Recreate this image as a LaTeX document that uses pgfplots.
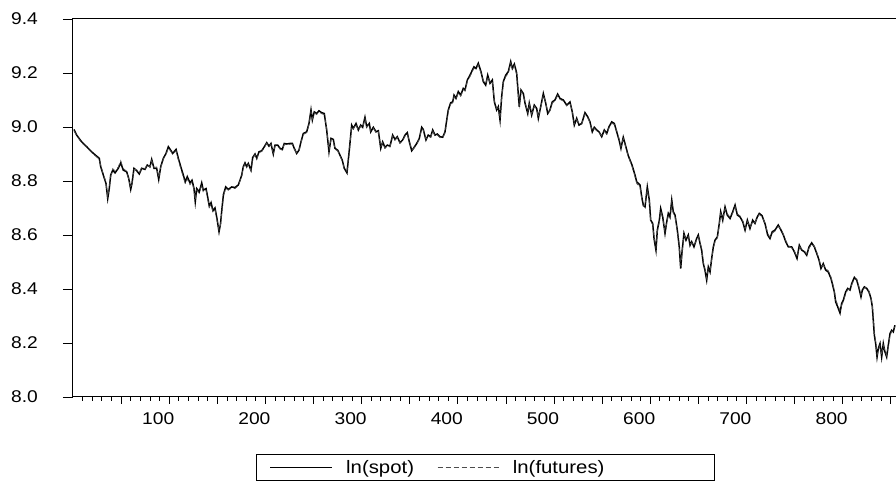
\documentclass[border=0pt]{standalone}
\usepackage{fontspec}
\setmainfont{Liberation Sans}[FakeStretch=1.13]
\usepackage{pgfplots}
\pgfplotsset{compat=1.18}
\usepackage{pgfplotstable}

\pgfplotstableread{
x s f
1 8.991 8.986
3.8 8.970 8.968
9.0 8.945 8.941
14.2 8.927 8.925
19.4 8.908 8.905
24.6 8.892 8.889
27.3 8.884 8.880
28.8 8.853 8.858
31.5 8.822 8.826
34.3 8.791 8.795
36.1 8.735 8.742
37.7 8.772 8.776
39.2 8.822 8.818
41.3 8.840 8.846
43.7 8.830 8.838
47.1 8.847 8.852
49.6 8.867 8.875
52.3 8.840 8.846
55.8 8.834 8.836
57.9 8.810 8.806
60.0 8.769 8.775
61.3 8.791 8.788
63.4 8.847 8.843
66.2 8.838 8.842
68.9 8.826 8.829
71.4 8.847 8.851
74.8 8.843 8.846
77.2 8.859 8.862
80.0 8.853 8.850
81.8 8.880 8.876
84.2 8.847 8.850
87.0 8.847 8.852
89.1 8.806 8.812
91.2 8.853 8.850
93.9 8.884 8.881
96.7 8.902 8.898
99.1 8.927 8.922
101.6 8.914 8.910
103.6 8.902 8.899
107.1 8.917 8.912
109.5 8.884 8.878
112.0 8.853 8.846
114.7 8.822 8.814
116.7 8.797 8.790
118.8 8.816 8.808
121.6 8.793 8.786
123.7 8.803 8.797
125.8 8.772 8.768
127.1 8.723 8.730
128.6 8.772 8.766
131.3 8.760 8.754
133.8 8.793 8.786
135.4 8.766 8.760
138.3 8.772 8.765
139.6 8.748 8.742
141.7 8.707 8.702
143.5 8.720 8.714
145.5 8.690 8.686
147.6 8.700 8.694
149.7 8.660 8.655
151.8 8.612 8.618
153.3 8.640 8.636
154.9 8.700 8.694
156.4 8.750 8.744
158.7 8.778 8.772
161.4 8.769 8.766
165.0 8.778 8.774
168.4 8.776 8.772
171.8 8.785 8.782
173.6 8.803 8.800
175.4 8.822 8.818
177.0 8.853 8.849
178.8 8.867 8.863
180.5 8.853 8.850
182.2 8.865 8.861
185.0 8.840 8.838
186.8 8.887 8.883
189.2 8.900 8.897
191.0 8.884 8.881
193.3 8.908 8.905
196.2 8.912 8.909
198.9 8.927 8.924
201.4 8.942 8.939
203.7 8.929 8.926
205.8 8.939 8.936
208.2 8.900 8.903
210.0 8.933 8.930
212.8 8.933 8.930
215.2 8.921 8.918
217.6 8.917 8.914
219.6 8.939 8.936
222.1 8.937 8.934
225.6 8.939 8.936
228.0 8.939 8.936
230.0 8.921 8.918
232.5 8.902 8.905
234.9 8.914 8.911
237.0 8.945 8.942
239.4 8.976 8.972
242.9 8.982 8.979
245.3 9.013 9.009
247.4 9.063 9.058
248.8 9.026 9.030
250.8 9.056 9.052
253.3 9.050 9.046
255.7 9.060 9.056
258.5 9.053 9.049
261.2 9.050 9.046
263.7 8.989 8.994
266.1 8.908 8.914
268.2 8.958 8.954
270.6 8.954 8.950
272.3 8.921 8.918
275.2 8.914 8.911
277.5 8.896 8.893
279.9 8.877 8.874
282.0 8.847 8.844
284.8 8.830 8.836
287.2 8.914 8.908
289.7 9.007 9.002
291.4 8.995 8.992
294.2 9.013 9.010
296.6 8.989 8.986
299.1 9.007 9.004
301.1 8.999 8.996
303.5 9.036 9.032
305.3 9.001 8.998
308.0 9.013 9.010
309.5 8.982 8.985
312.2 8.999 8.996
315.0 8.982 8.979
317.4 8.986 8.983
319.9 8.921 8.926
321.9 8.945 8.942
324.3 8.924 8.921
326.7 8.933 8.930
329.5 8.929 8.926
332.3 8.970 8.966
334.7 8.954 8.951
337.1 8.964 8.961
339.9 8.942 8.939
342.7 8.952 8.949
345.1 8.970 8.966
347.5 8.979 8.975
349.6 8.945 8.948
352.1 8.912 8.916
354.5 8.924 8.921
357.3 8.939 8.936
360.0 8.958 8.954
362.5 8.999 8.994
364.1 8.991 8.988
366.9 8.952 8.956
369.3 8.970 8.966
371.8 8.964 8.961
373.9 8.989 8.985
376.3 8.970 8.967
378.7 8.974 8.971
381.5 8.964 8.961
384.3 8.962 8.959
386.7 8.982 8.978
388.5 9.026 9.021
390.1 9.063 9.058
392.6 9.090 9.085
394.7 9.093 9.089
396.1 9.118 9.113
398.1 9.106 9.102
400.5 9.131 9.126
403.0 9.118 9.114
405.7 9.143 9.138
407.5 9.137 9.133
409.9 9.174 9.169
412.7 9.192 9.187
414.4 9.205 9.200
416.8 9.223 9.218
418.9 9.217 9.213
421.3 9.236 9.230
424.1 9.205 9.200
426.5 9.168 9.172
429.0 9.155 9.160
431.1 9.192 9.186
433.5 9.162 9.166
435.9 9.174 9.170
438.0 9.093 9.098
440.4 9.063 9.068
442.1 9.075 9.072
443.9 9.026 9.032
445.6 9.112 9.106
447.3 9.168 9.162
449.8 9.192 9.186
452.5 9.205 9.199
455.0 9.242 9.236
456.7 9.217 9.212
458.8 9.233 9.227
461.2 9.199 9.194
463.9 9.075 9.080
465.7 9.137 9.132
468.1 9.124 9.120
469.9 9.088 9.092
472.7 9.050 9.055
474.3 9.088 9.084
476.8 9.044 9.048
479.5 9.081 9.077
482.0 9.069 9.066
483.7 9.032 9.036
486.5 9.081 9.077
488.9 9.124 9.119
491.4 9.088 9.091
493.5 9.050 9.054
495.8 9.063 9.060
498.2 9.093 9.089
501.0 9.100 9.096
503.8 9.122 9.117
506.2 9.106 9.102
509.7 9.100 9.096
513.2 9.081 9.078
516.6 9.093 9.089
519.0 9.056 9.060
521.1 9.007 9.012
523.6 9.032 9.028
526.0 9.007 9.011
528.8 9.013 9.010
532.2 9.053 9.048
535.0 9.038 9.035
537.4 9.019 9.016
539.8 8.982 8.986
541.9 8.999 8.995
544.4 8.989 8.986
546.8 8.982 8.979
549.6 8.964 8.968
552.3 8.989 8.985
554.8 8.976 8.973
557.2 9.001 8.997
560.0 9.019 9.014
562.7 9.013 9.009
565.2 8.982 8.986
567.6 8.952 8.957
569.6 8.921 8.927
572.0 8.962 8.957
573.8 8.939 8.936
577.0 8.896 8.892
581.1 8.859 8.854
584.2 8.822 8.816
586.0 8.797 8.790
589.4 8.785 8.778
591.2 8.741 8.734
592.8 8.711 8.706
594.6 8.704 8.710
597.0 8.778 8.770
599.1 8.729 8.722
600.5 8.655 8.650
602.6 8.643 8.638
604.0 8.587 8.594
606.0 8.544 8.552
607.4 8.618 8.612
609.5 8.655 8.648
610.9 8.698 8.690
613.0 8.667 8.662
615.4 8.606 8.612
617.2 8.649 8.644
618.8 8.680 8.674
620.6 8.667 8.662
622.4 8.729 8.720
624.0 8.686 8.680
625.8 8.674 8.668
628.2 8.618 8.612
630.2 8.556 8.562
631.7 8.476 8.484
633.1 8.538 8.532
635.1 8.606 8.600
637.2 8.581 8.586
639.6 8.600 8.595
641.4 8.562 8.566
643.1 8.575 8.571
645.5 8.556 8.560
648.3 8.587 8.582
650.0 8.600 8.594
651.8 8.569 8.573
653.5 8.544 8.548
655.2 8.494 8.500
656.9 8.470 8.476
658.7 8.433 8.440
660.4 8.482 8.476
662.2 8.463 8.468
663.9 8.513 8.508
665.6 8.556 8.550
667.4 8.581 8.576
669.8 8.593 8.588
671.8 8.643 8.637
673.3 8.686 8.680
675.4 8.655 8.660
677.8 8.704 8.698
680.1 8.674 8.679
683.0 8.661 8.666
685.8 8.686 8.681
688.2 8.711 8.705
690.6 8.674 8.678
693.4 8.667 8.671
696.2 8.649 8.653
698.6 8.618 8.623
701.0 8.655 8.650
703.7 8.624 8.628
706.5 8.655 8.651
708.9 8.643 8.646
711.3 8.667 8.663
713.4 8.680 8.676
716.2 8.672 8.668
719.5 8.640 8.644
722.1 8.600 8.606
724.5 8.587 8.592
726.9 8.612 8.607
729.7 8.618 8.614
733.1 8.637 8.632
736.0 8.618 8.622
738.4 8.600 8.604
740.9 8.575 8.580
743.6 8.556 8.561
747.1 8.556 8.552
749.8 8.538 8.542
752.6 8.513 8.518
755.0 8.562 8.556
757.5 8.544 8.548
760.2 8.538 8.542
762.7 8.525 8.530
765.1 8.556 8.551
767.9 8.571 8.566
770.6 8.556 8.560
773.1 8.532 8.536
775.5 8.507 8.512
777.5 8.476 8.482
779.9 8.494 8.489
782.4 8.470 8.475
785.1 8.463 8.468
787.9 8.439 8.445
789.3 8.420 8.426
791.4 8.389 8.396
792.8 8.352 8.360
794.9 8.334 8.342
797.3 8.311 8.320
799.0 8.346 8.340
800.7 8.358 8.352
803.2 8.389 8.383
805.3 8.402 8.397
807.7 8.396 8.400
809.5 8.420 8.415
812.2 8.443 8.437
814.7 8.433 8.437
817.1 8.402 8.407
819.1 8.371 8.378
820.5 8.396 8.391
822.6 8.408 8.404
825.1 8.402 8.406
827.4 8.389 8.393
829.5 8.365 8.370
830.9 8.334 8.340
831.9 8.284 8.292
833.0 8.229 8.238
834.4 8.198 8.205
835.8 8.148 8.156
837.1 8.179 8.172
838.9 8.198 8.192
840.6 8.148 8.154
842.3 8.198 8.191
844.0 8.167 8.172
845.8 8.148 8.154
847.5 8.192 8.186
849.3 8.235 8.228
851.0 8.247 8.242
852.7 8.241 8.246
854.4 8.266 8.260
}\datatable

\begin{document}
\begin{tikzpicture}
% main axis: frame, x ticks, data, legend
\begin{axis}[
  scale only axis,
  width=830pt, height=378pt,
  xmin=0, xmax=862.8, ymin=8.0, ymax=9.4,
  axis line style={line width=1pt, black},
  xtick pos=left,
  ytick=\empty,
  tick align=outside,
  xtick={50,100,...,850},
  xticklabels={,100,,200,,300,,400,,500,,600,,700,,800,},
  minor xtick={10,20,...,850},
  major tick length=7pt, minor tick length=4pt,
  tick style={line width=0.8pt, black},
  tick label style={font=\fontsize{17}{20}\selectfont},
  xticklabel style={anchor=north, inner sep=0pt, xshift=-11pt, yshift=-8pt},
  legend columns=2,
  legend style={at={(0.497,-0.1865)}, anchor=center, draw=black, line width=0.8pt,
    inner xsep=13.5pt, inner ysep=5.5pt, column sep=0pt,
    font=\fontsize{18}{21}\selectfont,
    nodes={inner sep=0pt, font=\fontsize{18}{21}\selectfont}},
  legend image code/.code={\draw[#1, line width=0.7pt] (0pt,0pt) -- (62pt,0pt); \path (75pt,0pt);},
]
\addplot[black, line width=1.5pt] table[x=x, y=s] {\datatable};
\addlegendentry{\makebox[91pt][l]{ln(spot)}}
\addplot[gray!60!black, dash pattern=on 5pt off 3pt, line width=0.7pt] table[x=x, y=f] {\datatable};
\addlegendentry{\makebox[188pt][l]{ln(futures)}}
\end{axis}
% overlay axis: y ticks and labels only
\begin{axis}[
  scale only axis,
  width=830pt, height=378pt,
  xmin=0, xmax=862.8, ymin=8.0, ymax=9.4,
  axis line style={draw=none},
  xtick=\empty,
  ytick pos=left,
  tick align=outside,
  ytick={8.0,8.2,8.4,8.6,8.8,9.0,9.2,9.4},
  major tick length=10pt,
  tick style={line width=0.8pt, black},
  /pgf/number format/fixed,
  /pgf/number format/fixed zerofill,
  /pgf/number format/precision=1,
  /pgf/number format/assume math mode=true,
  tick label style={font=\fontsize{17}{20}\selectfont},
  yticklabel style={anchor=east, inner sep=0pt, xshift=-25pt},
]
\end{axis}
\pgfresetboundingbox
\path[use as bounding box] (-73pt,-89pt) rectangle (823pt,397pt);
\end{tikzpicture}
\end{document}
